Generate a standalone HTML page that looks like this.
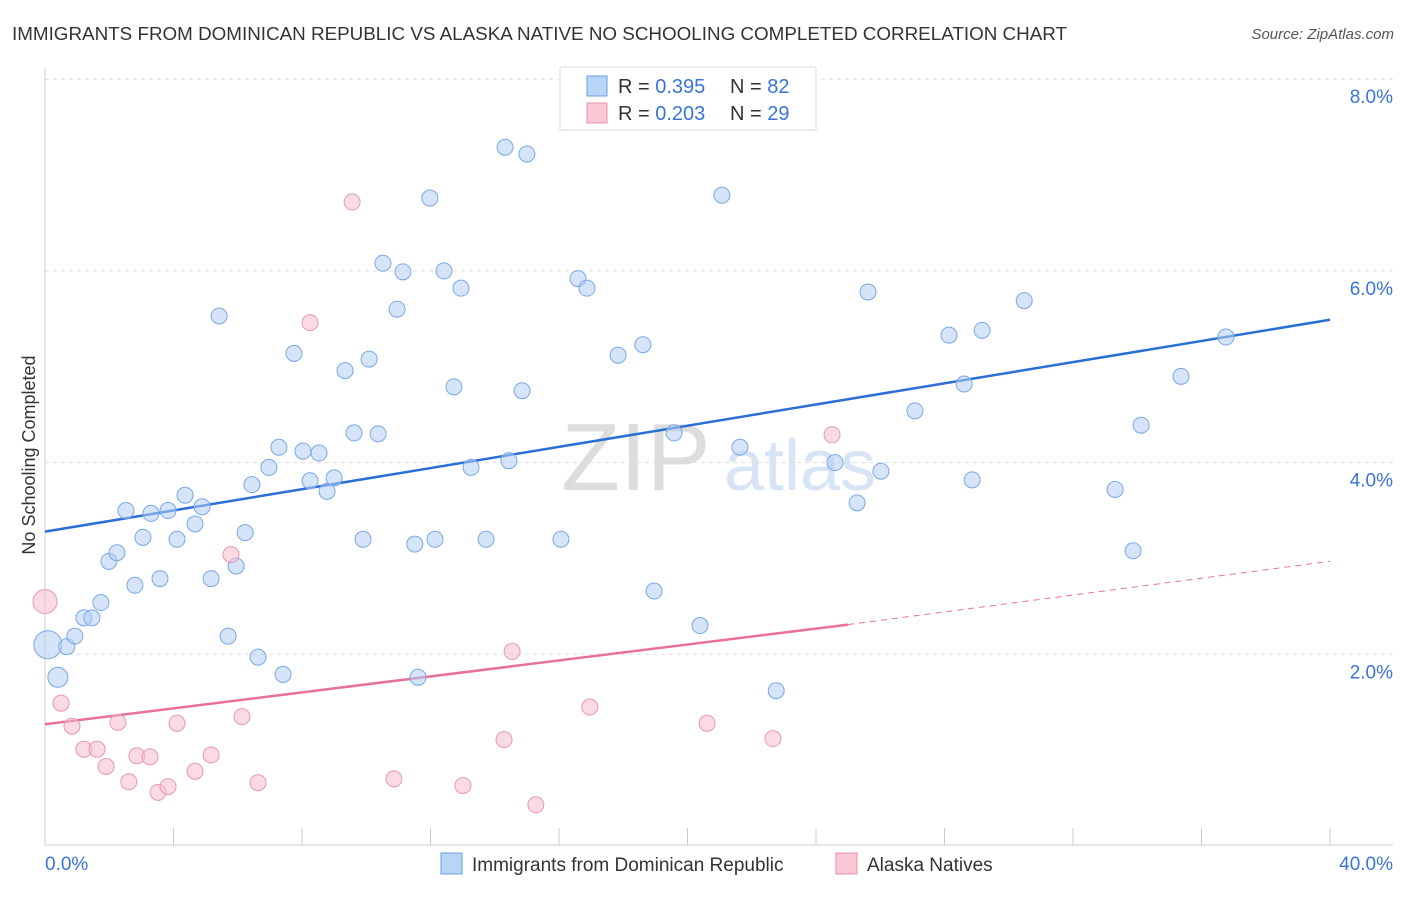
<!DOCTYPE html>
<html><head><meta charset="utf-8"><style>
body{margin:0;background:#fff;font-family:"Liberation Sans",sans-serif;}
svg text{font-family:"Liberation Sans",sans-serif;}
</style></head><body>
<svg id="chart" width="1406" height="892" xmlns="http://www.w3.org/2000/svg">
<text x="12" y="40" font-size="18" fill="#333" textLength="1055" lengthAdjust="spacingAndGlyphs">IMMIGRANTS FROM DOMINICAN REPUBLIC VS ALASKA NATIVE NO SCHOOLING COMPLETED CORRELATION CHART</text>
<text x="1394" y="39" font-size="15" fill="#555" font-style="italic" text-anchor="end">Source: ZipAtlas.com</text>
<text x="636" y="490" font-size="96" fill="#ddd" font-family="Liberation Serif" text-anchor="middle">ZIP</text>
<text x="800" y="490" font-size="72" fill="#d6e4f5" text-anchor="middle">atlas</text>
<g id="grid"></g><g id="axes"></g><g id="lines"></g><g id="pts"></g>
<text x="35" y="455" font-size="18" fill="#333" transform="rotate(-90 35 455)" text-anchor="middle">No Schooling Completed</text>
<g>
<rect x="560" y="67" width="256" height="63" fill="#fff" stroke="#ddd"/>
<rect x="587" y="76" width="20" height="20" fill="#b8d4f6" stroke="#6a9fe0"/>
<text x="618" y="93" font-size="20" fill="#333">R = <tspan fill="#3a74d8">0.395</tspan></text>
<text x="730" y="93" font-size="20" fill="#333">N = <tspan fill="#3a74d8">82</tspan></text>
<rect x="587" y="103" width="20" height="20" fill="#f9c6d4" stroke="#e890a8"/>
<text x="618" y="120" font-size="20" fill="#333">R = <tspan fill="#3a74d8">0.203</tspan></text>
<text x="730" y="120" font-size="20" fill="#333">N = <tspan fill="#3a74d8">29</tspan></text>
</g>
<g>
<rect x="441" y="853" width="21" height="21" fill="#b8d4f6" stroke="#6a9fe0"/>
<text x="472" y="871" font-size="19" fill="#333">Immigrants from Dominican Republic</text>
<rect x="836" y="853" width="21" height="21" fill="#f9c6d4" stroke="#e890a8"/>
<text x="867" y="871" font-size="19" fill="#333">Alaska Natives</text>
</g>
</svg>
<script>
const blueX=[0.09,0.4,0.68,0.93,1.21,1.46,1.74,1.99,2.24,2.52,2.80,3.05,3.30,3.58,3.83,4.11,4.36,4.67,4.89,5.17,5.42,5.70,5.95,6.23,6.44,6.63,6.97,7.28,7.41,7.75,8.03,8.25,8.53,8.78,9.00,9.34,9.62,9.90,10.09,10.37,10.52,10.96,11.14,11.51,11.61,11.98,12.14,12.42,12.73,12.95,13.26,13.73,14.32,14.44,14.85,15.00,16.06,16.59,16.87,17.84,18.61,18.96,19.58,20.39,21.07,21.63,22.76,24.59,25.28,25.62,26.02,27.08,28.14,28.61,28.86,29.17,30.48,33.31,33.87,34.12,35.36,36.76];
const blueY=[2.10,1.76,2.08,2.19,2.38,2.38,2.54,2.97,3.06,3.50,2.72,3.22,3.47,2.79,3.50,3.20,3.66,3.36,3.54,2.79,5.53,2.19,2.92,3.27,3.77,1.97,3.95,4.16,1.79,5.14,4.12,3.81,4.10,3.70,3.84,4.96,4.31,3.20,5.08,4.30,6.08,5.60,5.99,3.15,1.76,6.76,3.20,6.00,4.79,5.82,3.95,3.20,7.29,4.02,4.75,7.22,3.20,5.92,5.82,5.12,5.23,2.66,4.31,2.30,6.79,4.16,1.62,4.00,3.58,5.78,3.91,4.54,5.33,4.82,3.82,5.38,5.69,3.72,3.08,4.39,4.90,5.31];
const pinkX=[0,0.50,0.84,1.21,1.62,1.90,2.27,2.61,2.86,3.27,3.52,3.83,4.11,4.67,5.17,5.79,6.13,6.63,8.25,9.56,10.86,13.01,14.29,14.54,15.28,16.96,20.61,22.66,24.50];
const pinkY=[2.55,1.49,1.25,1.01,1.01,0.83,1.29,0.67,0.94,0.93,0.56,0.62,1.28,0.78,0.95,3.04,1.35,0.66,5.46,6.72,0.70,0.63,1.11,2.03,0.43,1.45,1.28,1.12,4.29];
const yTicks=[2,4,6,8];
const xTickLabels=["0.0%","40.0%"];
const blueTrend=[3.28,5.49];
const pinkTrend=[1.27,2.31,2.97];
const X=v=>45+v*1285/40, Y=v=>846-v*95.85;
const NS="http://www.w3.org/2000/svg";
function mk(p,t,a){const e=document.createElementNS(NS,t);for(const k in a)e.setAttribute(k,a[k]);document.getElementById(p).appendChild(e);return e;}
yTicks.forEach(v=>{
 const l=mk('grid','line',{x1:45,x2:1393,y1:Y(v),y2:Y(v),stroke:'#ddd','stroke-dasharray':'4,4'});
 
 
 const t=mk('grid','text',{x:1393,y:Y(v)+24,'font-size':19,fill:'#3a74d8','text-anchor':'end'});t.textContent=v.toFixed(1)+'%';
 
 
});
const ax=mk('axes','line',{x1:45,x2:1393,y1:845,y2:845,stroke:'#ccc'});


const ay=mk('axes','line',{x1:45,x2:45,y1:68,y2:845,stroke:'#ccc'});


for(let i=0;i<=10;i++){const tk=mk('axes','line',{x1:X(i*4),x2:X(i*4),y1:828,y2:845,stroke:'#ccc'});
 
 }
[[0,'start',45],[40,'end',1393]].forEach((d,i)=>{const t=mk('axes','text',{x:d[2],y:870,'font-size':19,fill:'#3a74d8','text-anchor':d[1]});t.textContent=xTickLabels[i];
 
 });
const bl=mk('lines','line',{x1:X(0),y1:Y(blueTrend[0]),x2:X(40),y2:Y(blueTrend[1]),stroke:'#2a6fd6','stroke-width':2.5});


const pl=mk('lines','line',{x1:X(0),y1:Y(pinkTrend[0]),x2:X(25),y2:Y(pinkTrend[1]),stroke:'#e8719a','stroke-width':2.5});


const pd=mk('lines','line',{x1:X(25),y1:Y(pinkTrend[1]),x2:X(40),y2:Y(pinkTrend[2]),stroke:'#e8719a','stroke-width':1,'stroke-dasharray':'6,5'});


blueX.forEach((x,i)=>{const r=i==0?14:i==1?10:8;const c=mk('pts','circle',{cx:X(x),cy:Y(blueY[i]),r:r,fill:'rgba(178,206,242,0.55)',stroke:'#7aa8e4','stroke-width':1});
 
 });
pinkX.forEach((x,i)=>{const r=i==0?12:8;const c=mk('pts','circle',{cx:X(x),cy:Y(pinkY[i]),r:r,fill:'rgba(245,190,205,0.55)',stroke:'#e898b0','stroke-width':1});
 
 });
</script>
</body></html>
